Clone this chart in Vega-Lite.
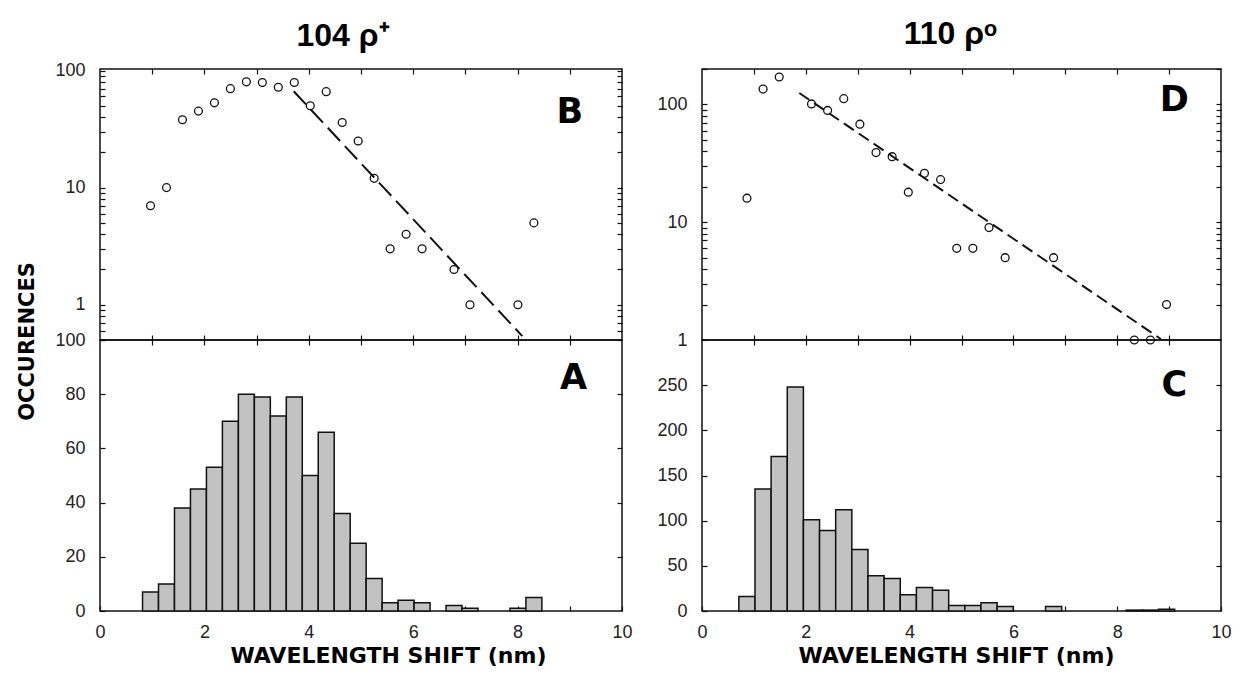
{
  "$schema": "https://vega.github.io/schema/vega-lite/v6.json",
  "autosize": "none",
  "padding": {"left": 100, "top": 69, "right": 1139, "bottom": 623},
  "background": "white",
  "config": {
    "view": {"stroke": "#111", "strokeWidth": 1.5},
    "axis": {
      "domain": false, "grid": false, "ticks": true, "tickColor": "#111", "tickWidth": 1.2, "tickSize": -5,
      "labelFont": "Liberation Sans", "labelFontSize": 18, "labelColor": "#222", "labelPadding": 20,
      "labelOverlap": false, "labelFlush": false, "labelBound": false,
      "titleFont": "DejaVu Sans", "titleFontWeight": "bold", "titleFontSize": 22, "titleColor": "#000"
    },
    "title": {"font": "Liberation Sans", "fontWeight": "bold", "fontSize": 32, "color": "#000"}
  },
  "datasets": {
    "left": [
      {"x0": 0.815, "x1": 1.121, "xc": 0.968, "n": 7},
      {"x0": 1.121, "x1": 1.427, "xc": 1.274, "n": 10},
      {"x0": 1.427, "x1": 1.733, "xc": 1.58, "n": 38},
      {"x0": 1.733, "x1": 2.039, "xc": 1.886, "n": 45},
      {"x0": 2.039, "x1": 2.345, "xc": 2.192, "n": 53},
      {"x0": 2.345, "x1": 2.651, "xc": 2.498, "n": 70},
      {"x0": 2.651, "x1": 2.957, "xc": 2.804, "n": 80},
      {"x0": 2.957, "x1": 3.263, "xc": 3.11, "n": 79},
      {"x0": 3.263, "x1": 3.569, "xc": 3.416, "n": 72},
      {"x0": 3.569, "x1": 3.875, "xc": 3.722, "n": 79},
      {"x0": 3.875, "x1": 4.181, "xc": 4.028, "n": 50},
      {"x0": 4.181, "x1": 4.487, "xc": 4.334, "n": 66},
      {"x0": 4.487, "x1": 4.793, "xc": 4.64, "n": 36},
      {"x0": 4.793, "x1": 5.099, "xc": 4.946, "n": 25},
      {"x0": 5.099, "x1": 5.405, "xc": 5.252, "n": 12},
      {"x0": 5.405, "x1": 5.711, "xc": 5.558, "n": 3},
      {"x0": 5.711, "x1": 6.017, "xc": 5.864, "n": 4},
      {"x0": 6.017, "x1": 6.323, "xc": 6.17, "n": 3},
      {"x0": 6.629, "x1": 6.935, "xc": 6.782, "n": 2},
      {"x0": 6.935, "x1": 7.241, "xc": 7.088, "n": 1},
      {"x0": 7.853, "x1": 8.159, "xc": 8.006, "n": 1},
      {"x0": 8.159, "x1": 8.465, "xc": 8.312, "n": 5}
    ],
    "right": [
      {"x0": 0.71, "x1": 1.021, "xc": 0.866, "n": 16},
      {"x0": 1.021, "x1": 1.332, "xc": 1.177, "n": 135},
      {"x0": 1.332, "x1": 1.643, "xc": 1.488, "n": 171},
      {"x0": 1.643, "x1": 1.954, "xc": 1.799, "n": 248},
      {"x0": 1.954, "x1": 2.265, "xc": 2.11, "n": 101},
      {"x0": 2.265, "x1": 2.576, "xc": 2.42, "n": 89},
      {"x0": 2.576, "x1": 2.887, "xc": 2.731, "n": 112},
      {"x0": 2.887, "x1": 3.198, "xc": 3.042, "n": 68},
      {"x0": 3.198, "x1": 3.509, "xc": 3.353, "n": 39},
      {"x0": 3.509, "x1": 3.82, "xc": 3.664, "n": 36},
      {"x0": 3.82, "x1": 4.131, "xc": 3.975, "n": 18},
      {"x0": 4.131, "x1": 4.442, "xc": 4.286, "n": 26},
      {"x0": 4.442, "x1": 4.753, "xc": 4.597, "n": 23},
      {"x0": 4.753, "x1": 5.064, "xc": 4.908, "n": 6},
      {"x0": 5.064, "x1": 5.375, "xc": 5.219, "n": 6},
      {"x0": 5.375, "x1": 5.686, "xc": 5.53, "n": 9},
      {"x0": 5.686, "x1": 5.997, "xc": 5.841, "n": 5},
      {"x0": 6.619, "x1": 6.93, "xc": 6.774, "n": 5},
      {"x0": 8.174, "x1": 8.485, "xc": 8.33, "n": 1},
      {"x0": 8.485, "x1": 8.796, "xc": 8.64, "n": 1},
      {"x0": 8.796, "x1": 9.107, "xc": 8.951, "n": 2}
    ],
    "leftFit": [{"xc": 3.71, "n": 66.5}, {"xc": 8.09, "n": 0.54}],
    "rightFit": [{"xc": 1.874, "n": 125}, {"xc": 8.84, "n": 1.02}]
  },
  "columns": 2,
  "spacing": {"row": 0, "column": 80},
  "bounds": "flush",
  "concat": [
    {
      "title": {"text": "104 ρ⁺", "frame": "group", "anchor": "middle", "offset": 17, "baseline": "alphabetic", "dx": -18, "dy": 33},
      "width": 522, "height": 271,
      "layer": [
        {
          "data": {"name": "left"},
          "mark": {"type": "point", "shape": "circle", "filled": false, "color": "#111", "strokeWidth": 1.3, "size": 62, "opacity": 1},
          "encoding": {
            "x": {"field": "xc", "type": "quantitative", "scale": {"domain": [0, 10], "nice": false, "zero": false},
                  "axis": {"orient": "bottom", "values": [1,2,3,4,5,6,7,8,9], "labels": false, "title": null}},
            "y": {"field": "n", "type": "quantitative", "scale": {"type": "log", "domain": [0.5, 103], "nice": false},
                  "axis": {"orient": "left", "values": [0.5,0.6,0.7,0.8,0.9,1,2,3,4,5,6,7,8,9,10,20,30,40,50,60,70,80,90,100],
                           "labelExpr": "datum.value == 1 ? '1' : datum.value == 10 ? '10' : datum.value == 100 ? '100' : ''", "title": null}}
          }
        },
        {
          "data": {"name": "leftFit"},
          "mark": {"type": "line", "color": "#111", "strokeWidth": 2, "strokeDash": [18, 7]},
          "encoding": {
            "x": {"field": "xc", "type": "quantitative", "scale": {"domain": [0, 10], "nice": false, "zero": false}, "axis": null},
            "y": {"field": "n", "type": "quantitative", "scale": {"type": "log", "domain": [0.5, 103], "nice": false}, "axis": null}
          }
        },
        {
          "data": {"values": [{"xc": 9.0, "n": 44, "t": "B"}]},
          "mark": {"type": "text", "font": "DejaVu Sans", "fontWeight": "bold", "fontSize": 35, "align": "center", "baseline": "middle", "color": "#000"},
          "encoding": {
            "x": {"field": "xc", "type": "quantitative", "scale": {"domain": [0, 10], "nice": false, "zero": false},
                  "axis": {"orient": "top", "values": [1,2,3,4,5,6,7,8,9], "labels": false, "title": null}},
            "y": {"field": "n", "type": "quantitative", "scale": {"type": "log", "domain": [0.5, 103], "nice": false},
                  "axis": {"orient": "right", "values": [0.5,0.6,0.7,0.8,0.9,1,2,3,4,5,6,7,8,9,10,20,30,40,50,60,70,80,90,100], "labels": false, "title": null}},
            "text": {"field": "t"}
          }
        }
      ],
      "resolve": {"axis": {"x": "independent", "y": "independent"}}
    },
    {
      "title": {"text": "110 ρᵒ", "frame": "group", "anchor": "middle", "offset": 17, "baseline": "alphabetic", "dx": -11, "dy": 33},
      "width": 519, "height": 271,
      "layer": [
        {
          "data": {"name": "right"},
          "transform": [{"filter": "datum.n <= 200"}],
          "mark": {"type": "point", "shape": "circle", "filled": false, "color": "#111", "strokeWidth": 1.3, "size": 62, "opacity": 1},
          "encoding": {
            "x": {"field": "xc", "type": "quantitative", "scale": {"domain": [0, 10], "nice": false, "zero": false},
                  "axis": {"orient": "bottom", "values": [1,2,3,4,5,6,7,8,9], "labels": false, "title": null}},
            "y": {"field": "n", "type": "quantitative", "scale": {"type": "log", "domain": [1, 200], "nice": false},
                  "axis": {"orient": "left", "values": [1,2,3,4,5,6,7,8,9,10,20,30,40,50,60,70,80,90,100,200],
                           "labelExpr": "datum.value == 1 ? '1' : datum.value == 10 ? '10' : datum.value == 100 ? '100' : ''", "title": null}}
          }
        },
        {
          "data": {"name": "rightFit"},
          "mark": {"type": "line", "color": "#111", "strokeWidth": 2, "strokeDash": [12, 6]},
          "encoding": {
            "x": {"field": "xc", "type": "quantitative", "scale": {"domain": [0, 10], "nice": false, "zero": false}, "axis": null},
            "y": {"field": "n", "type": "quantitative", "scale": {"type": "log", "domain": [1, 200], "nice": false}, "axis": null}
          }
        },
        {
          "data": {"values": [{"xc": 9.1, "n": 110, "t": "D"}]},
          "mark": {"type": "text", "font": "DejaVu Sans", "fontWeight": "bold", "fontSize": 35, "align": "center", "baseline": "middle", "color": "#000"},
          "encoding": {
            "x": {"field": "xc", "type": "quantitative", "scale": {"domain": [0, 10], "nice": false, "zero": false},
                  "axis": {"orient": "top", "values": [1,2,3,4,5,6,7,8,9], "labels": false, "title": null}},
            "y": {"field": "n", "type": "quantitative", "scale": {"type": "log", "domain": [1, 200], "nice": false},
                  "axis": {"orient": "right", "values": [2,3,4,5,6,7,8,9,10,20,30,40,50,60,70,80,90,100,200], "labels": false, "title": null}},
            "text": {"field": "t"}
          }
        }
      ],
      "resolve": {"axis": {"x": "independent", "y": "independent"}}
    },
    {
      "width": 522, "height": 271,
      "layer": [
        {
          "data": {"name": "left"},
          "mark": {"type": "rect", "fill": "#c2c2c2", "stroke": "#111", "strokeWidth": 1.5},
          "encoding": {
            "x": {"field": "x0", "type": "quantitative", "scale": {"domain": [0, 10], "nice": false, "zero": false},
                  "axis": {"orient": "bottom", "values": [0,1,2,3,4,5,6,7,8,9,10], "labelExpr": "datum.value % 2 == 0 ? datum.label : ''",
                           "labelPadding": 17, "title": "WAVELENGTH SHIFT (nm)", "titleX": 288, "titleY": 51, "titleAlign": "center", "titleBaseline": "alphabetic"}},
            "x2": {"field": "x1"},
            "y": {"field": "n", "type": "quantitative", "scale": {"domain": [0, 100], "nice": false},
                  "axis": {"orient": "left", "values": [0,20,40,60,80,100], "title": "OCCURENCES",
                           "titleX": -67, "titleY": 1, "titleAngle": 270, "titleAlign": "center", "titleBaseline": "alphabetic", "titleFontSize": 21}},
            "y2": {"datum": 0}
          }
        },
        {
          "data": {"values": [{"xc": 9.07, "n": 86, "t": "A"}]},
          "mark": {"type": "text", "font": "DejaVu Sans", "fontWeight": "bold", "fontSize": 35, "align": "center", "baseline": "middle", "color": "#000"},
          "encoding": {
            "x": {"field": "xc", "type": "quantitative", "scale": {"domain": [0, 10], "nice": false, "zero": false},
                  "axis": {"orient": "top", "values": [1,2,3,4,5,6,7,8,9], "labels": false, "title": null}},
            "y": {"field": "n", "type": "quantitative", "scale": {"domain": [0, 100], "nice": false},
                  "axis": {"orient": "right", "values": [20,40,60,80], "labels": false, "title": null}},
            "text": {"field": "t"}
          }
        }
      ],
      "resolve": {"axis": {"x": "independent", "y": "independent"}}
    },
    {
      "width": 519, "height": 271,
      "layer": [
        {
          "data": {"name": "right"},
          "mark": {"type": "rect", "fill": "#c2c2c2", "stroke": "#111", "strokeWidth": 1.5},
          "encoding": {
            "x": {"field": "x0", "type": "quantitative", "scale": {"domain": [0, 10], "nice": false, "zero": false},
                  "axis": {"orient": "bottom", "values": [0,1,2,3,4,5,6,7,8,9,10], "labelExpr": "datum.value % 2 == 0 ? datum.label : ''",
                           "labelPadding": 17, "title": "WAVELENGTH SHIFT (nm)", "titleX": 254, "titleY": 51, "titleAlign": "center", "titleBaseline": "alphabetic"}},
            "x2": {"field": "x1"},
            "y": {"field": "n", "type": "quantitative", "scale": {"domain": [0, 300], "nice": false},
                  "axis": {"orient": "left", "values": [0,50,100,150,200,250], "title": null}},
            "y2": {"datum": 0}
          }
        },
        {
          "data": {"values": [{"xc": 9.1, "n": 250, "t": "C"}]},
          "mark": {"type": "text", "font": "DejaVu Sans", "fontWeight": "bold", "fontSize": 35, "align": "center", "baseline": "middle", "color": "#000"},
          "encoding": {
            "x": {"field": "xc", "type": "quantitative", "scale": {"domain": [0, 10], "nice": false, "zero": false},
                  "axis": {"orient": "top", "values": [1,2,3,4,5,6,7,8,9], "labels": false, "title": null}},
            "y": {"field": "n", "type": "quantitative", "scale": {"domain": [0, 300], "nice": false},
                  "axis": {"orient": "right", "values": [50,100,150,200,250], "labels": false, "title": null}},
            "text": {"field": "t"}
          }
        }
      ],
      "resolve": {"axis": {"x": "independent", "y": "independent"}}
    }
  ]
}
